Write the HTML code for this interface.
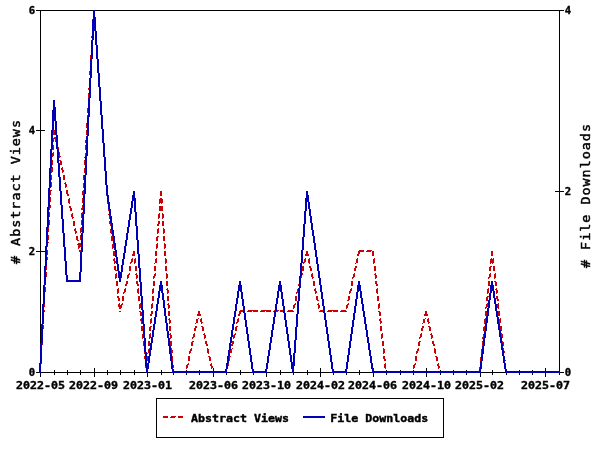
<!DOCTYPE html>
<html lang="en"><head><meta charset="utf-8"><title>Abstract Views and File Downloads</title>
<style>
html,body{margin:0;padding:0;background:#fff;overflow:hidden}
svg{display:block}
.t{font-family:'DejaVu Sans Mono','Liberation Mono',monospace;font-weight:bold;font-size:10.6px;fill:#000;stroke:#000;stroke-width:.4px}
.l{font-family:'DejaVu Sans Mono','Liberation Mono',monospace;font-weight:normal;font-size:12.4px;fill:#000;stroke:#000;stroke-width:.45px}
</style></head>
<body>
<svg width="600" height="450" viewBox="0 0 600 450">
<rect width="600" height="450" fill="#fff"/>
<g shape-rendering="crispEdges">
<path fill="#000" d="M36 10h528v1h-528zM40 11h1v119h-1zM559 11h1v180h-1zM36 130h9v1h-9zM40 131h1v120h-1zM555 191h9v1h-9zM559 192h1v180h-1zM36 251h9v1h-9zM40 252h1v120h-1zM94 368h1v4h-1zM147 368h1v4h-1zM213 368h1v4h-1zM266 368h1v4h-1zM320 368h1v4h-1zM373 368h1v4h-1zM426 368h1v4h-1zM480 368h1v4h-1zM545 368h1v4h-1zM54 370h1v2h-1zM67 370h1v2h-1zM80 370h1v2h-1zM107 370h1v2h-1zM120 370h1v2h-1zM134 370h1v2h-1zM161 370h1v2h-1zM173 370h1v2h-1zM186 370h1v2h-1zM199 370h1v2h-1zM226 370h1v2h-1zM240 370h1v2h-1zM253 370h1v2h-1zM280 370h1v2h-1zM293 370h1v2h-1zM307 370h1v2h-1zM333 370h1v2h-1zM346 370h1v2h-1zM359 370h1v2h-1zM386 370h1v2h-1zM400 370h1v2h-1zM413 370h1v2h-1zM440 370h1v2h-1zM453 370h1v2h-1zM466 370h1v2h-1zM492 370h1v2h-1zM506 370h1v2h-1zM519 370h1v2h-1zM532 370h1v2h-1zM36 372h528v1h-528zM40 373h1v4h-1zM54 373h1v2h-1zM67 373h1v2h-1zM80 373h1v2h-1zM94 373h1v4h-1zM107 373h1v2h-1zM120 373h1v2h-1zM134 373h1v2h-1zM147 373h1v4h-1zM161 373h1v2h-1zM173 373h1v2h-1zM186 373h1v2h-1zM199 373h1v2h-1zM213 373h1v4h-1zM226 373h1v2h-1zM240 373h1v2h-1zM253 373h1v2h-1zM266 373h1v4h-1zM280 373h1v2h-1zM293 373h1v2h-1zM307 373h1v2h-1zM320 373h1v4h-1zM333 373h1v2h-1zM346 373h1v2h-1zM359 373h1v2h-1zM373 373h1v4h-1zM386 373h1v2h-1zM400 373h1v2h-1zM413 373h1v2h-1zM426 373h1v4h-1zM440 373h1v2h-1zM453 373h1v2h-1zM466 373h1v2h-1zM480 373h1v4h-1zM492 373h1v2h-1zM506 373h1v2h-1zM519 373h1v2h-1zM532 373h1v2h-1zM545 373h1v4h-1zM559 373h1v2h-1zM156 398h288v1h-288zM156 399h1v38h-1zM443 399h1v38h-1zM156 437h288v1h-288z"/>
<path fill="#cc0000" d="M93 10h2v5h-2zM94 17h2v1h-2zM93 18h3v1h-3zM92 19h4v3h-4zM92 22h1v1h-1zM94 22h1v1h-1zM92 25h4v5h-4zM93 32h1v1h-1zM96 32h1v1h-1zM92 33h2v3h-2zM95 33h2v4h-2zM91 36h2v1h-2zM91 37h1v1h-1zM95 37h1v1h-1zM91 40h2v5h-2zM95 40h2v5h-2zM92 47h1v1h-1zM97 47h1v1h-1zM91 48h2v4h-2zM96 48h2v4h-2zM91 52h1v1h-1zM96 52h1v1h-1zM90 55h2v5h-2zM96 55h2v4h-2zM97 59h2v1h-2zM91 62h1v1h-1zM98 62h1v1h-1zM90 63h2v4h-2zM97 63h2v4h-2zM90 67h1v1h-1zM97 67h1v1h-1zM90 70h2v1h-2zM97 70h2v3h-2zM89 71h2v4h-2zM98 73h2v2h-2zM90 77h1v1h-1zM99 77h1v1h-1zM89 78h2v4h-2zM98 78h2v4h-2zM89 82h1v1h-1zM98 82h1v1h-1zM89 85h2v3h-2zM98 85h2v2h-2zM99 87h2v3h-2zM88 88h2v2h-2zM89 92h1v1h-1zM100 92h1v1h-1zM88 93h2v4h-2zM99 93h2v4h-2zM88 97h1v1h-1zM99 97h1v1h-1zM88 100h2v5h-2zM99 100h2v1h-2zM100 101h2v4h-2zM88 107h1v1h-1zM101 107h1v1h-1zM87 108h2v4h-2zM100 108h2v4h-2zM87 112h1v1h-1zM100 112h1v1h-1zM87 115h2v5h-2zM101 115h2v5h-2zM87 122h1v1h-1zM102 122h1v1h-1zM86 123h2v4h-2zM101 123h2v4h-2zM86 127h1v1h-1zM101 127h1v1h-1zM53 130h2v3h-2zM86 130h2v5h-2zM102 130h2v5h-2zM53 133h3v2h-3zM54 137h2v1h-2zM87 137h1v1h-1zM103 137h1v1h-1zM53 138h4v1h-4zM86 138h2v2h-2zM102 138h2v4h-2zM52 139h2v3h-2zM55 139h2v3h-2zM85 140h2v2h-2zM52 142h1v1h-1zM56 142h1v1h-1zM85 142h1v1h-1zM102 142h1v1h-1zM52 145h2v5h-2zM56 145h2v2h-2zM85 145h2v5h-2zM103 145h2v5h-2zM57 147h2v3h-2zM53 152h1v1h-1zM59 152h1v1h-1zM86 152h1v1h-1zM104 152h1v1h-1zM52 153h2v3h-2zM58 153h2v3h-2zM85 153h2v4h-2zM103 153h2v4h-2zM51 156h2v1h-2zM59 156h2v1h-2zM51 157h1v1h-1zM59 157h1v1h-1zM84 157h1v1h-1zM104 157h1v1h-1zM51 160h2v5h-2zM59 160h2v1h-2zM84 160h2v5h-2zM104 160h2v5h-2zM60 161h2v4h-2zM52 167h1v1h-1zM62 167h1v1h-1zM85 167h1v1h-1zM105 167h1v1h-1zM51 168h2v4h-2zM61 168h2v2h-2zM84 168h2v4h-2zM104 168h2v3h-2zM62 170h2v2h-2zM105 171h2v1h-2zM51 172h1v1h-1zM62 172h1v1h-1zM84 172h1v1h-1zM105 172h1v1h-1zM50 175h2v5h-2zM63 175h2v5h-2zM83 175h2v5h-2zM105 175h2v5h-2zM51 182h1v1h-1zM65 182h1v1h-1zM84 182h1v1h-1zM106 182h1v1h-1zM50 183h2v4h-2zM64 183h2v1h-2zM83 183h2v4h-2zM105 183h2v2h-2zM65 184h2v3h-2zM106 185h2v2h-2zM50 187h1v1h-1zM65 187h1v1h-1zM83 187h1v1h-1zM106 187h1v1h-1zM50 190h2v1h-2zM66 190h2v4h-2zM83 190h2v1h-2zM106 190h2v6h-2zM49 191h2v4h-2zM82 191h2v4h-2zM160 191h2v5h-2zM67 194h2v2h-2zM50 197h1v1h-1zM83 197h1v1h-1zM49 198h2v4h-2zM69 198h1v1h-1zM82 198h2v4h-2zM108 198h1v1h-1zM160 198h2v1h-2zM68 199h2v4h-2zM107 199h2v4h-2zM159 199h4v4h-4zM49 202h1v1h-1zM82 202h1v1h-1zM69 203h1v1h-1zM107 203h1v1h-1zM159 203h1v1h-1zM161 203h1v1h-1zM49 205h2v3h-2zM82 205h2v3h-2zM69 206h2v2h-2zM108 206h2v5h-2zM159 206h4v5h-4zM48 208h2v2h-2zM70 208h2v3h-2zM81 208h2v2h-2zM49 212h1v1h-1zM82 212h1v1h-1zM48 213h2v4h-2zM72 213h1v1h-1zM81 213h2v4h-2zM109 213h1v1h-1zM159 213h1v1h-1zM162 213h1v1h-1zM71 214h2v3h-2zM108 214h2v1h-2zM158 214h2v4h-2zM162 214h2v4h-2zM109 215h2v3h-2zM48 217h1v1h-1zM72 217h2v1h-2zM81 217h1v1h-1zM72 218h1v1h-1zM109 218h1v1h-1zM158 218h1v1h-1zM162 218h1v1h-1zM48 220h2v5h-2zM81 220h2v5h-2zM73 221h2v5h-2zM109 221h2v3h-2zM158 221h2v3h-2zM162 221h2v5h-2zM110 224h2v2h-2zM157 224h2v2h-2zM48 227h1v1h-1zM81 227h1v1h-1zM47 228h2v4h-2zM75 228h1v1h-1zM80 228h2v4h-2zM111 228h1v1h-1zM158 228h1v1h-1zM163 228h1v1h-1zM74 229h2v2h-2zM110 229h2v4h-2zM157 229h2v4h-2zM163 229h2v4h-2zM75 231h2v2h-2zM47 232h1v1h-1zM80 232h1v1h-1zM75 233h1v1h-1zM111 233h1v1h-1zM157 233h1v1h-1zM163 233h1v1h-1zM47 235h2v5h-2zM80 235h2v5h-2zM76 236h2v4h-2zM111 236h2v5h-2zM157 236h2v1h-2zM163 236h2v5h-2zM156 237h2v4h-2zM77 240h2v1h-2zM48 242h1v1h-1zM81 242h1v1h-1zM46 243h2v4h-2zM78 243h3v1h-3zM113 243h1v1h-1zM157 243h1v1h-1zM164 243h1v1h-1zM77 244h4v1h-4zM112 244h2v4h-2zM156 244h2v4h-2zM164 244h2v4h-2zM78 245h3v2h-3zM46 247h1v1h-1zM78 247h2v1h-2zM78 248h1v1h-1zM112 248h1v1h-1zM156 248h1v1h-1zM164 248h1v1h-1zM46 250h2v5h-2zM79 250h2v2h-2zM359 250h5v1h-5zM367 250h5v1h-5zM113 251h2v5h-2zM133 251h2v3h-2zM155 251h2v5h-2zM164 251h2v5h-2zM306 251h2v3h-2zM358 251h6v1h-6zM366 251h5v1h-5zM372 251h2v5h-2zM491 251h2v5h-2zM358 252h2v2h-2zM132 254h3v2h-3zM305 254h4v2h-4zM357 254h2v2h-2zM47 257h1v1h-1zM46 258h2v2h-2zM114 258h1v1h-1zM132 258h1v1h-1zM135 258h1v1h-1zM156 258h1v1h-1zM165 258h1v1h-1zM305 258h1v1h-1zM309 258h1v1h-1zM357 258h1v1h-1zM374 258h1v1h-1zM491 258h1v1h-1zM493 258h1v1h-1zM113 259h2v2h-2zM131 259h2v3h-2zM134 259h2v4h-2zM155 259h2v4h-2zM165 259h2v4h-2zM304 259h2v3h-2zM308 259h2v4h-2zM356 259h2v4h-2zM373 259h2v4h-2zM490 259h4v4h-4zM45 260h2v2h-2zM114 261h2v2h-2zM45 262h1v1h-1zM130 262h2v1h-2zM303 262h2v1h-2zM114 263h1v1h-1zM130 263h1v1h-1zM134 263h1v1h-1zM154 263h1v1h-1zM165 263h1v1h-1zM303 263h1v1h-1zM309 263h1v1h-1zM355 263h1v1h-1zM373 263h1v1h-1zM490 263h1v1h-1zM492 263h1v1h-1zM45 265h2v5h-2zM114 266h2v4h-2zM129 266h2v5h-2zM135 266h2v5h-2zM154 266h2v5h-2zM165 266h2v5h-2zM302 266h2v5h-2zM309 266h2v2h-2zM355 266h2v2h-2zM374 266h2v5h-2zM490 266h2v1h-2zM493 266h2v5h-2zM489 267h2v4h-2zM310 268h2v3h-2zM354 268h2v3h-2zM115 270h2v1h-2zM46 272h1v1h-1zM45 273h2v4h-2zM116 273h1v1h-1zM129 273h1v1h-1zM136 273h1v1h-1zM155 273h1v1h-1zM166 273h1v1h-1zM302 273h1v1h-1zM312 273h1v1h-1zM354 273h1v1h-1zM375 273h1v1h-1zM490 273h1v1h-1zM495 273h1v1h-1zM115 274h2v4h-2zM128 274h2v1h-2zM135 274h2v1h-2zM154 274h2v2h-2zM166 274h2v4h-2zM301 274h2v1h-2zM311 274h2v3h-2zM353 274h2v3h-2zM374 274h2v1h-2zM489 274h2v3h-2zM494 274h2v4h-2zM127 275h2v3h-2zM136 275h2v3h-2zM300 275h2v3h-2zM375 275h2v3h-2zM153 276h2v2h-2zM44 277h1v1h-1zM312 277h2v1h-2zM352 277h2v1h-2zM488 277h2v1h-2zM115 278h1v1h-1zM127 278h1v1h-1zM136 278h1v1h-1zM153 278h1v1h-1zM166 278h1v1h-1zM300 278h1v1h-1zM312 278h1v1h-1zM352 278h1v1h-1zM375 278h1v1h-1zM488 278h1v1h-1zM494 278h1v1h-1zM44 280h2v5h-2zM116 281h2v5h-2zM126 281h2v3h-2zM136 281h2v3h-2zM153 281h2v5h-2zM166 281h2v5h-2zM299 281h2v3h-2zM313 281h2v5h-2zM351 281h2v5h-2zM375 281h2v3h-2zM488 281h2v5h-2zM494 281h2v1h-2zM495 282h2v4h-2zM125 284h2v2h-2zM137 284h2v2h-2zM298 284h2v2h-2zM376 284h2v2h-2zM45 287h1v1h-1zM44 288h2v4h-2zM118 288h1v1h-1zM125 288h1v1h-1zM138 288h1v1h-1zM153 288h1v1h-1zM167 288h1v1h-1zM298 288h1v1h-1zM315 288h1v1h-1zM351 288h1v1h-1zM377 288h1v1h-1zM488 288h1v1h-1zM496 288h1v1h-1zM117 289h2v4h-2zM124 289h2v3h-2zM137 289h2v4h-2zM152 289h2v4h-2zM166 289h2v1h-2zM297 289h2v3h-2zM314 289h2v2h-2zM350 289h2v2h-2zM376 289h2v4h-2zM487 289h2v4h-2zM495 289h2v1h-2zM167 290h2v3h-2zM496 290h2v3h-2zM315 291h2v2h-2zM349 291h2v2h-2zM44 292h1v1h-1zM123 292h2v1h-2zM296 292h2v1h-2zM117 293h1v1h-1zM123 293h1v1h-1zM138 293h1v1h-1zM152 293h1v1h-1zM167 293h1v1h-1zM296 293h1v1h-1zM315 293h1v1h-1zM349 293h1v1h-1zM377 293h1v1h-1zM487 293h1v1h-1zM496 293h1v1h-1zM43 295h2v5h-2zM117 296h2v2h-2zM122 296h2v5h-2zM138 296h2v5h-2zM152 296h2v5h-2zM167 296h2v5h-2zM295 296h2v5h-2zM316 296h2v4h-2zM348 296h2v4h-2zM377 296h2v5h-2zM487 296h2v1h-2zM496 296h2v3h-2zM486 297h2v4h-2zM118 298h2v3h-2zM497 299h2v2h-2zM317 300h2v1h-2zM347 300h2v1h-2zM44 302h1v1h-1zM43 303h2v4h-2zM119 303h1v1h-1zM122 303h1v1h-1zM140 303h1v1h-1zM152 303h1v1h-1zM168 303h1v1h-1zM295 303h1v1h-1zM318 303h1v1h-1zM348 303h1v1h-1zM379 303h1v1h-1zM487 303h1v1h-1zM498 303h1v1h-1zM118 304h2v1h-2zM121 304h2v1h-2zM139 304h2v4h-2zM151 304h2v4h-2zM167 304h2v1h-2zM294 304h2v1h-2zM317 304h2v1h-2zM347 304h2v1h-2zM378 304h2v4h-2zM486 304h2v3h-2zM497 304h2v4h-2zM118 305h4v2h-4zM168 305h2v3h-2zM293 305h2v3h-2zM318 305h2v3h-2zM346 305h2v3h-2zM43 307h1v1h-1zM119 307h3v1h-3zM485 307h2v1h-2zM119 308h2v1h-2zM139 308h1v1h-1zM151 308h1v1h-1zM168 308h1v1h-1zM293 308h1v1h-1zM318 308h1v1h-1zM346 308h1v1h-1zM378 308h1v1h-1zM485 308h1v1h-1zM498 308h1v1h-1zM43 310h2v2h-2zM240 310h5v1h-5zM248 310h10v1h-10zM261 310h10v1h-10zM274 310h5v1h-5zM280 310h5v2h-5zM288 310h5v1h-5zM320 310h5v1h-5zM328 310h10v1h-10zM341 310h5v1h-5zM119 311h2v1h-2zM139 311h2v1h-2zM151 311h2v3h-2zM168 311h2v5h-2zM198 311h2v3h-2zM239 311h6v1h-6zM247 311h5v1h-5zM253 311h5v1h-5zM260 311h5v1h-5zM266 311h5v1h-5zM273 311h5v1h-5zM287 311h7v1h-7zM319 311h6v1h-6zM327 311h5v1h-5zM333 311h5v1h-5zM340 311h7v1h-7zM378 311h2v1h-2zM425 311h2v3h-2zM485 311h2v5h-2zM498 311h2v5h-2zM42 312h2v3h-2zM140 312h2v4h-2zM239 312h2v2h-2zM379 312h2v4h-2zM150 314h2v2h-2zM197 314h4v2h-4zM238 314h2v2h-2zM424 314h4v2h-4zM43 317h1v1h-1zM42 318h2v4h-2zM141 318h1v1h-1zM151 318h1v1h-1zM169 318h1v1h-1zM198 318h1v1h-1zM201 318h1v1h-1zM238 318h1v1h-1zM380 318h1v1h-1zM425 318h1v1h-1zM428 318h1v1h-1zM485 318h1v1h-1zM500 318h1v1h-1zM140 319h2v2h-2zM150 319h2v4h-2zM168 319h2v1h-2zM196 319h2v4h-2zM200 319h2v3h-2zM237 319h2v3h-2zM379 319h2v2h-2zM423 319h2v4h-2zM427 319h2v3h-2zM484 319h2v4h-2zM499 319h2v4h-2zM169 320h2v3h-2zM141 321h2v2h-2zM380 321h2v2h-2zM42 322h1v1h-1zM201 322h2v1h-2zM236 322h2v1h-2zM428 322h2v1h-2zM141 323h1v1h-1zM150 323h1v1h-1zM169 323h1v1h-1zM195 323h1v1h-1zM201 323h1v1h-1zM236 323h1v1h-1zM380 323h1v1h-1zM422 323h1v1h-1zM428 323h1v1h-1zM484 323h1v1h-1zM499 323h1v1h-1zM42 325h2v4h-2zM141 326h2v5h-2zM150 326h2v1h-2zM169 326h2v5h-2zM195 326h2v2h-2zM201 326h2v1h-2zM236 326h2v1h-2zM380 326h2v5h-2zM422 326h2v2h-2zM428 326h2v1h-2zM484 326h2v1h-2zM500 326h2v5h-2zM149 327h2v4h-2zM202 327h2v4h-2zM235 327h2v4h-2zM429 327h2v4h-2zM483 327h2v4h-2zM194 328h2v3h-2zM421 328h2v3h-2zM41 329h2v1h-2zM42 332h1v1h-1zM41 333h2v4h-2zM143 333h1v1h-1zM150 333h1v1h-1zM170 333h1v1h-1zM194 333h1v1h-1zM204 333h1v1h-1zM235 333h1v1h-1zM382 333h1v1h-1zM421 333h1v1h-1zM431 333h1v1h-1zM484 333h1v1h-1zM501 333h1v1h-1zM142 334h2v4h-2zM149 334h2v4h-2zM169 334h2v1h-2zM193 334h2v3h-2zM203 334h2v1h-2zM234 334h2v1h-2zM381 334h2v4h-2zM420 334h2v3h-2zM430 334h2v1h-2zM483 334h2v3h-2zM501 334h2v4h-2zM170 335h2v3h-2zM204 335h2v3h-2zM233 335h2v3h-2zM431 335h2v3h-2zM41 337h1v1h-1zM192 337h2v1h-2zM419 337h2v1h-2zM482 337h2v1h-2zM142 338h1v1h-1zM149 338h1v1h-1zM170 338h1v1h-1zM192 338h1v1h-1zM204 338h1v1h-1zM233 338h1v1h-1zM381 338h1v1h-1zM419 338h1v1h-1zM431 338h1v1h-1zM482 338h1v1h-1zM501 338h1v1h-1zM41 340h2v5h-2zM143 341h2v5h-2zM148 341h2v5h-2zM170 341h2v5h-2zM192 341h2v1h-2zM205 341h2v3h-2zM232 341h2v3h-2zM382 341h2v5h-2zM419 341h2v1h-2zM432 341h2v3h-2zM482 341h2v5h-2zM501 341h2v1h-2zM191 342h2v4h-2zM418 342h2v4h-2zM502 342h2v4h-2zM206 344h2v2h-2zM231 344h2v2h-2zM433 344h2v2h-2zM41 347h1v1h-1zM40 348h2v4h-2zM144 348h1v1h-1zM149 348h1v1h-1zM171 348h1v1h-1zM191 348h1v1h-1zM207 348h1v1h-1zM232 348h1v1h-1zM383 348h1v1h-1zM418 348h1v1h-1zM434 348h1v1h-1zM482 348h1v1h-1zM503 348h1v1h-1zM144 349h2v4h-2zM148 349h2v4h-2zM170 349h2v1h-2zM190 349h2v2h-2zM207 349h2v4h-2zM230 349h2v4h-2zM383 349h2v4h-2zM417 349h2v2h-2zM434 349h2v4h-2zM481 349h2v4h-2zM502 349h2v2h-2zM171 350h2v3h-2zM189 351h2v2h-2zM416 351h2v2h-2zM503 351h2v2h-2zM40 352h1v1h-1zM144 353h1v1h-1zM147 353h1v1h-1zM171 353h1v1h-1zM189 353h1v1h-1zM208 353h1v1h-1zM229 353h1v1h-1zM383 353h1v1h-1zM416 353h1v1h-1zM435 353h1v1h-1zM481 353h1v1h-1zM503 353h1v1h-1zM40 355h2v5h-2zM144 356h2v3h-2zM147 356h2v3h-2zM171 356h2v5h-2zM188 356h2v5h-2zM208 356h2v1h-2zM229 356h2v1h-2zM383 356h2v3h-2zM415 356h2v5h-2zM435 356h2v1h-2zM481 356h2v1h-2zM503 356h2v4h-2zM209 357h2v4h-2zM228 357h2v4h-2zM436 357h2v4h-2zM480 357h2v4h-2zM145 359h4v2h-4zM384 359h2v2h-2zM504 360h2v1h-2zM41 362h1v1h-1zM40 363h2v1h-2zM146 363h1v1h-1zM148 363h1v1h-1zM172 363h1v1h-1zM188 363h1v1h-1zM211 363h1v1h-1zM228 363h1v1h-1zM385 363h1v1h-1zM415 363h1v1h-1zM438 363h1v1h-1zM481 363h1v1h-1zM505 363h1v1h-1zM39 364h2v3h-2zM145 364h4v2h-4zM171 364h2v1h-2zM187 364h2v1h-2zM210 364h2v2h-2zM227 364h2v2h-2zM384 364h2v4h-2zM414 364h2v1h-2zM437 364h2v2h-2zM480 364h2v3h-2zM504 364h2v4h-2zM172 365h2v3h-2zM186 365h2v3h-2zM413 365h2v3h-2zM145 366h3v2h-3zM211 366h2v2h-2zM226 366h2v2h-2zM438 366h2v2h-2zM39 367h1v1h-1zM479 367h2v1h-2zM146 368h1v1h-1zM172 368h1v1h-1zM186 368h1v1h-1zM211 368h1v1h-1zM226 368h1v1h-1zM385 368h1v1h-1zM413 368h1v1h-1zM438 368h1v1h-1zM479 368h1v1h-1zM505 368h1v1h-1zM39 370h2v3h-2zM146 371h2v2h-2zM172 371h6v2h-6zM181 371h6v1h-6zM212 371h6v2h-6zM221 371h6v1h-6zM385 371h6v2h-6zM394 371h5v1h-5zM400 371h5v2h-5zM408 371h6v1h-6zM439 371h6v2h-6zM448 371h10v1h-10zM461 371h10v1h-10zM474 371h7v1h-7zM505 371h6v2h-6zM514 371h10v1h-10zM527 371h10v1h-10zM540 371h10v1h-10zM553 371h5v1h-5zM180 372h7v1h-7zM220 372h7v1h-7zM393 372h5v1h-5zM407 372h7v1h-7zM447 372h5v1h-5zM453 372h5v1h-5zM460 372h5v1h-5zM466 372h5v1h-5zM473 372h5v1h-5zM479 372h2v1h-2zM513 372h5v1h-5zM519 372h5v1h-5zM526 372h5v1h-5zM532 372h5v1h-5zM539 372h5v1h-5zM545 372h5v1h-5zM552 372h5v1h-5zM163 416h5v2h-5zM171 416h5v1h-5zM178 416h5v2h-5zM170 417h5v1h-5z"/>
<path fill="#0000b8" d="M93 10h2v7h-2zM93 17h3v3h-3zM92 20h4v11h-4zM92 31h2v9h-2zM95 31h2v14h-2zM91 40h2v19h-2zM96 45h2v14h-2zM90 59h2v19h-2zM97 59h2v14h-2zM98 73h2v14h-2zM89 78h2v20h-2zM99 87h2v14h-2zM88 98h2v19h-2zM53 100h2v7h-2zM100 101h2v14h-2zM53 107h3v3h-3zM52 110h4v11h-4zM101 115h2v14h-2zM87 117h2v19h-2zM52 121h2v9h-2zM55 121h2v14h-2zM102 129h2v14h-2zM51 130h2v19h-2zM56 135h2v14h-2zM86 136h2v20h-2zM103 143h2v14h-2zM50 149h2v19h-2zM57 149h2v14h-2zM85 156h2v19h-2zM104 157h2v14h-2zM58 163h2v14h-2zM49 168h2v20h-2zM105 171h2v14h-2zM84 175h2v19h-2zM59 177h2v14h-2zM106 185h2v10h-2zM48 188h2v19h-2zM60 191h2v14h-2zM133 191h2v4h-2zM306 191h2v4h-2zM83 194h2v20h-2zM107 195h2v7h-2zM132 195h3v3h-3zM306 195h3v3h-3zM132 198h4v3h-4zM305 198h4v4h-4zM131 201h2v7h-2zM134 201h2v11h-2zM108 202h2v7h-2zM305 202h2v9h-2zM308 202h2v7h-2zM61 205h2v14h-2zM47 207h2v20h-2zM130 208h2v6h-2zM109 209h2v7h-2zM309 209h2v7h-2zM304 211h2v13h-2zM135 212h2v14h-2zM82 214h2v19h-2zM129 214h2v6h-2zM110 216h2v7h-2zM310 216h2v7h-2zM62 219h2v14h-2zM128 220h2v7h-2zM111 223h2v7h-2zM311 223h2v7h-2zM303 224h2v13h-2zM136 226h2v14h-2zM46 227h2v19h-2zM127 227h2v6h-2zM112 230h2v6h-2zM312 230h2v6h-2zM63 233h2v14h-2zM81 233h2v19h-2zM126 233h2v7h-2zM113 236h2v7h-2zM313 236h2v7h-2zM302 237h2v13h-2zM125 240h2v6h-2zM137 240h2v14h-2zM114 243h2v7h-2zM314 243h2v7h-2zM45 246h2v20h-2zM124 246h2v7h-2zM64 247h2v14h-2zM115 250h2v7h-2zM301 250h2v13h-2zM315 250h2v7h-2zM80 252h2v20h-2zM123 253h2v6h-2zM138 254h2v14h-2zM116 257h2v7h-2zM316 257h2v7h-2zM122 259h2v6h-2zM65 261h2v14h-2zM300 263h2v13h-2zM117 264h2v7h-2zM317 264h2v7h-2zM121 265h2v7h-2zM44 266h2v19h-2zM139 268h2v14h-2zM118 271h2v1h-2zM318 271h2v7h-2zM79 272h2v8h-2zM118 272h4v6h-4zM66 275h2v5h-2zM299 276h2v12h-2zM119 278h2v4h-2zM319 278h2v7h-2zM66 280h15v2h-15zM160 281h2v4h-2zM239 281h2v4h-2zM279 281h2v4h-2zM358 281h2v4h-2zM491 281h2v4h-2zM140 282h2v14h-2zM43 285h2v19h-2zM159 285h4v6h-4zM238 285h4v6h-4zM278 285h4v6h-4zM320 285h2v7h-2zM357 285h4v6h-4zM490 285h4v6h-4zM298 288h2v13h-2zM158 291h2v7h-2zM161 291h2v2h-2zM237 291h2v7h-2zM240 291h2v1h-2zM277 291h2v7h-2zM280 291h2v1h-2zM357 291h2v1h-2zM360 291h2v7h-2zM490 291h2v2h-2zM493 291h2v7h-2zM241 292h2v7h-2zM281 292h2v7h-2zM321 292h2v7h-2zM356 292h2v7h-2zM162 293h2v7h-2zM489 293h2v7h-2zM141 296h2v14h-2zM157 298h2v6h-2zM236 298h2v6h-2zM276 298h2v6h-2zM361 298h2v6h-2zM494 298h2v6h-2zM242 299h2v7h-2zM282 299h2v7h-2zM322 299h2v7h-2zM355 299h2v7h-2zM163 300h2v8h-2zM488 300h2v8h-2zM297 301h2v13h-2zM42 304h2v20h-2zM156 304h2v7h-2zM235 304h2v7h-2zM275 304h2v7h-2zM362 304h2v7h-2zM495 304h2v7h-2zM243 306h2v7h-2zM283 306h2v7h-2zM323 306h2v7h-2zM354 306h2v7h-2zM164 308h2v8h-2zM487 308h2v8h-2zM142 310h2v14h-2zM155 311h2v6h-2zM234 311h2v6h-2zM274 311h2v6h-2zM363 311h2v6h-2zM496 311h2v6h-2zM244 313h2v7h-2zM284 313h2v7h-2zM324 313h2v7h-2zM353 313h2v7h-2zM296 314h2v13h-2zM165 316h2v7h-2zM486 316h2v7h-2zM154 317h2v7h-2zM233 317h2v7h-2zM273 317h2v7h-2zM364 317h2v7h-2zM497 317h2v7h-2zM245 320h2v7h-2zM285 320h2v7h-2zM325 320h2v7h-2zM352 320h2v7h-2zM166 323h2v8h-2zM485 323h2v8h-2zM41 324h2v19h-2zM143 324h2v14h-2zM153 324h2v6h-2zM232 324h2v6h-2zM272 324h2v6h-2zM365 324h2v6h-2zM498 324h2v6h-2zM246 327h2v7h-2zM286 327h2v7h-2zM295 327h2v13h-2zM326 327h2v7h-2zM351 327h2v7h-2zM152 330h2v7h-2zM231 330h2v7h-2zM271 330h2v7h-2zM366 330h2v7h-2zM499 330h2v7h-2zM167 331h2v7h-2zM484 331h2v7h-2zM247 334h2v7h-2zM287 334h2v7h-2zM327 334h2v7h-2zM350 334h2v7h-2zM151 337h2v6h-2zM230 337h2v6h-2zM270 337h2v6h-2zM367 337h2v6h-2zM500 337h2v6h-2zM144 338h2v14h-2zM168 338h2v8h-2zM483 338h2v8h-2zM294 340h2v13h-2zM248 341h2v7h-2zM288 341h2v7h-2zM328 341h2v7h-2zM349 341h2v7h-2zM40 343h2v20h-2zM150 343h2v7h-2zM229 343h2v7h-2zM269 343h2v7h-2zM368 343h2v7h-2zM501 343h2v7h-2zM169 346h2v8h-2zM482 346h2v8h-2zM249 348h2v7h-2zM289 348h2v7h-2zM329 348h2v7h-2zM348 348h2v7h-2zM149 350h2v6h-2zM228 350h2v6h-2zM268 350h2v6h-2zM369 350h2v6h-2zM502 350h2v6h-2zM145 352h2v11h-2zM293 353h2v9h-2zM170 354h2v7h-2zM481 354h2v7h-2zM250 355h2v7h-2zM290 355h2v7h-2zM330 355h2v7h-2zM347 355h2v7h-2zM148 356h2v7h-2zM227 356h2v7h-2zM267 356h2v7h-2zM370 356h2v7h-2zM503 356h2v7h-2zM171 361h2v8h-2zM480 361h2v8h-2zM251 362h2v7h-2zM291 362h4v4h-4zM331 362h2v7h-2zM346 362h2v7h-2zM39 363h2v10h-2zM145 363h4v3h-4zM226 363h2v6h-2zM266 363h2v6h-2zM371 363h2v6h-2zM504 363h2v6h-2zM146 366h3v3h-3zM291 366h3v3h-3zM146 369h2v4h-2zM172 369h2v2h-2zM225 369h2v2h-2zM252 369h2v2h-2zM265 369h2v2h-2zM292 369h2v4h-2zM332 369h2v2h-2zM345 369h2v2h-2zM372 369h2v2h-2zM479 369h2v2h-2zM505 369h2v2h-2zM172 371h55v2h-55zM252 371h15v2h-15zM332 371h15v2h-15zM372 371h109v2h-109zM505 371h55v2h-55zM303 416h22v2h-22z"/>
</g>
<text class="t" x="35.2" y="376" text-anchor="end">0</text>
<text class="t" x="35.2" y="255" text-anchor="end">2</text>
<text class="t" x="35.2" y="134" text-anchor="end">4</text>
<text class="t" x="35.2" y="14" text-anchor="end">6</text>
<text class="t" x="564.8" y="376">0</text>
<text class="t" x="564.8" y="195">2</text>
<text class="t" x="564.8" y="14">4</text>
<text class="t" x="16" y="389" textLength="49" lengthAdjust="spacingAndGlyphs">2022-05</text>
<text class="t" x="69" y="389" textLength="49" lengthAdjust="spacingAndGlyphs">2022-09</text>
<text class="t" x="123" y="389" textLength="49" lengthAdjust="spacingAndGlyphs">2023-01</text>
<text class="t" x="189" y="389" textLength="49" lengthAdjust="spacingAndGlyphs">2023-06</text>
<text class="t" x="242" y="389" textLength="49" lengthAdjust="spacingAndGlyphs">2023-10</text>
<text class="t" x="296" y="389" textLength="49" lengthAdjust="spacingAndGlyphs">2024-02</text>
<text class="t" x="348" y="389" textLength="49" lengthAdjust="spacingAndGlyphs">2024-06</text>
<text class="t" x="402" y="389" textLength="49" lengthAdjust="spacingAndGlyphs">2024-10</text>
<text class="t" x="455" y="389" textLength="49" lengthAdjust="spacingAndGlyphs">2025-02</text>
<text class="t" x="521" y="389" textLength="49" lengthAdjust="spacingAndGlyphs">2025-07</text>
<text class="t" x="191.0" y="422" textLength="98" lengthAdjust="spacingAndGlyphs">Abstract Views</text>
<text class="t" x="330.3" y="422" textLength="98" lengthAdjust="spacingAndGlyphs">File Downloads</text>
<text class="l" transform="translate(19.5,264) rotate(-90) scale(1.08,1)" textLength="133.33" lengthAdjust="spacing"># Abstract Views</text>
<text class="l" transform="translate(589.5,268) rotate(-90) scale(1.08,1)" textLength="133.33" lengthAdjust="spacing"># File Downloads</text>
</svg>
</body></html>
